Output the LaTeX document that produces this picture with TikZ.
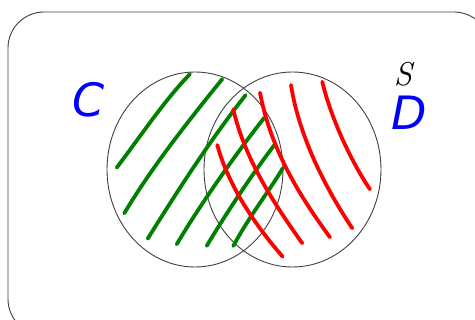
\documentclass[tikz,border=0pt]{standalone}
\usepackage{fontspec}
\usetikzlibrary{shapes.geometric}
\newfontfamily\handfont{DejaVu Sans}
\begin{document}
\begin{tikzpicture}[x=1pt,y=-1pt,
  setline/.style={draw=black!75,line width=0.9pt},
  gstroke/.style={draw=green!50!black,line width=3.8pt,line cap=round},
  rstroke/.style={draw=red,line width=3.8pt,line cap=round},
  setlabel/.style={text=blue,font=\handfont\itshape\fontsize{46}{46}\selectfont,inner sep=0pt},
  univlabel/.style={font=\itshape\fontsize{33}{33}\selectfont,inner sep=0pt}]
\useasboundingbox (0,0) rectangle (475,320);
\begin{scope}
\clip (0,0) rectangle (475,320);
\draw[setline,rounded corners=36pt] (8,12) rectangle (490,335);
\end{scope}
\node[setline,ellipse,minimum width=176pt,minimum height=195pt,inner sep=0pt] (C) at (195,169.5) {};
\node[setline,ellipse,minimum width=177pt,minimum height=195pt,inner sep=0pt] (D) at (292.5,169.5) {};
% green strokes
\coordinate (g1a) at (116.7,167.7); \coordinate (g1b) at (190,74);
\coordinate (g2a) at (124.3,213.3); \coordinate (g2b) at (222.3,79);
\coordinate (g3a) at (147.7,238.7); \coordinate (g3b) at (245.7,95);
\coordinate (g4a) at (176.7,244.3); \coordinate (g4b) at (264.3,117.7);
\coordinate (g5a) at (206.7,246); \coordinate (g5b) at (275,144.3);
\coordinate (g6a) at (233.3,246); \coordinate (g6b) at (282.7,168.3);
\draw[gstroke] (g1a) .. controls (145,130) and (165,100) .. (g1b);
\draw[gstroke] (g2a) .. controls (150,170) and (185,125) .. (g2b);
\draw[gstroke] (g3a) .. controls (175,195) and (210,140) .. (g3b);
\draw[gstroke] (g4a) .. controls (200,205) and (235,155) .. (g4b);
\draw[gstroke] (g5a) .. controls (225,215) and (255,170) .. (g5b);
\draw[gstroke] (g6a) .. controls (250,215) and (270,190) .. (g6b);
% red strokes
\coordinate (r1a) at (217.3,145); \coordinate (r1b) at (282.7,256.7);
\coordinate (r2a) at (233.3,109.3); \coordinate (r2b) at (302.3,243.3);
\coordinate (r3a) at (260,92.7); \coordinate (r3b) at (330,237.3);
\coordinate (r4a) at (291,85); \coordinate (r4b) at (352.3,228.3);
\coordinate (r5a) at (322.3,81.7); \coordinate (r5b) at (370,189.3);
\draw[rstroke] (r1a) .. controls (228,185) and (255,225) .. (r1b);
\draw[rstroke] (r2a) .. controls (245,160) and (275,205) .. (r2b);
\draw[rstroke] (r3a) .. controls (270,145) and (295,190) .. (r3b);
\draw[rstroke] (r4a) .. controls (298,130) and (320,180) .. (r4b);
\draw[rstroke] (r5a) .. controls (330,115) and (350,160) .. (r5b);
\node[setlabel] (lc) at (89,100) {C};
\node[setlabel] (ld) at (409,113) {D};
\node[univlabel] (ls) at (403,74) {S};
\end{tikzpicture}
\end{document}
